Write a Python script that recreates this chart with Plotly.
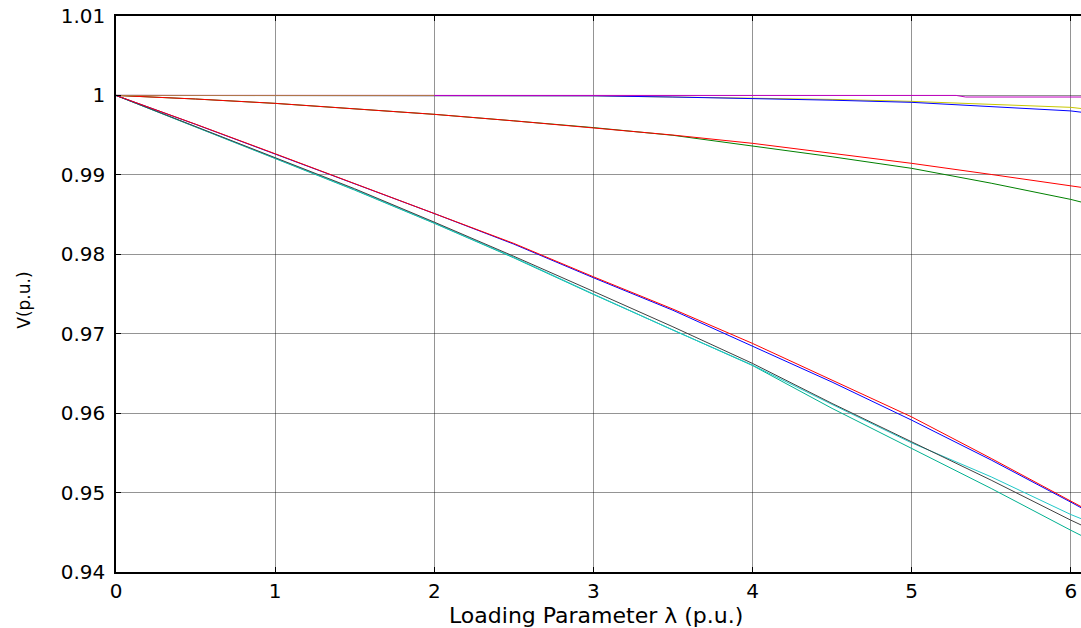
import plotly.graph_objects as go

# Loading parameter samples (p.u.)
lam = [0, 0.5, 1, 1.5, 2, 2.5, 3, 3.5, 4, 4.5, 5, 5.5, 6, 6.11]

# Steep-decline buses
v_red_steep = [1.0, 0.99638, 0.99266, 0.98893, 0.9852, 0.98137, 0.97717, 0.9731, 0.96878, 0.96417, 0.95953, 0.9543, 0.94896, 0.94775]
v_blue_steep = [1.0, 0.99636, 0.99262, 0.98888, 0.98513, 0.98128, 0.97705, 0.97295, 0.96848, 0.96391, 0.95912, 0.9541, 0.9488, 0.9476]
v_gray = [1.0, 0.9961, 0.99215, 0.98825, 0.98405, 0.97975, 0.97533, 0.97087, 0.96626, 0.96122, 0.95639, 0.95156, 0.94653, 0.9455]
v_cyan = [1.0, 0.99605, 0.99208, 0.98815, 0.98395, 0.97962, 0.975, 0.97045, 0.96605, 0.9611, 0.95626, 0.95198, 0.94724, 0.94635]
v_teal = [1.0, 0.99602, 0.99205, 0.98808, 0.9839, 0.97955, 0.97495, 0.97045, 0.966, 0.9606, 0.95555, 0.95052, 0.94526, 0.94415]

# Slow-decline buses
v_red_slow = [1.0, 0.99955, 0.999, 0.99835, 0.99762, 0.9968, 0.99595, 0.99501, 0.99397, 0.99271, 0.99145, 0.99005, 0.98859, 0.9883]
v_green_slow = [1.0, 0.99955, 0.999, 0.99835, 0.99762, 0.9968, 0.99595, 0.99498, 0.99367, 0.99228, 0.99082, 0.98895, 0.98691, 0.98635]

# Nearly flat buses
v_blue_flat = [1.0, 1.0, 1.0, 1.0, 1.0, 0.99998, 0.99995, 0.9998, 0.99963, 0.9994, 0.99913, 0.99855, 0.99805, 0.99778]
v_yellow = [1.0, 1.0, 1.0, 1.0, 1.0, 0.99998, 0.99995, 0.9998, 0.99966, 0.9995, 0.99925, 0.9989, 0.9985, 0.99825]
lam_mag = [0, 1, 2, 3, 4, 5, 5.28, 5.34, 6, 6.11]
v_magenta = [1.0, 1.0, 1.0, 1.0, 1.0, 1.0, 1.0, 0.9998, 0.9998, 0.9998]
lam_orange = [0, 1, 2]
v_orange = [1.0, 1.0, 1.0]

x_ticks = [0, 1, 2, 3, 4, 5, 6]
y_ticks = [0.94, 0.95, 0.96, 0.97, 0.98, 0.99, 1.0, 1.01]
y_tick_text = ["0.94", "0.95", "0.96", "0.97", "0.98", "0.99", "1", "1.01"]

series = [
    (lam, v_yellow, "#c8c800"),
    (lam, v_blue_flat, "#0000ff"),
    (lam_mag, v_magenta, "#c000c0"),
    (lam, v_green_slow, "#008000"),
    (lam, v_red_slow, "#ff0000"),
    (lam, v_teal, "#00b090"),
    (lam, v_cyan, "#20c8c8"),
    (lam, v_gray, "#404040"),
    (lam, v_blue_steep, "#0000ff"),
    (lam, v_red_steep, "#ff0000"),
    (lam_orange, v_orange, "#b08040"),
]

fig = go.Figure()
for xs, ys, col in series:
    fig.add_trace(go.Scatter(x=xs, y=ys, mode="lines",
                             line=dict(color=col, width=1), showlegend=False,
                             hoverinfo="skip"))

font_family = "DejaVu Sans, Arial, sans-serif"
axis_common = dict(
    showline=True, linecolor="black", linewidth=1.5, mirror="ticks",
    ticks="inside", ticklen=5, tickcolor="black", tickwidth=1,
    showgrid=True, gridcolor="rgba(0,0,0,0.42)", gridwidth=1,
    zeroline=False,
    tickfont=dict(family=font_family, size=20, color="black"),
)

# figure slightly wider than the window so the right frame edge falls outside
W, H = 1090, 628
L, R, T, B = 116, 0, 16, 56
pw, ph = W - L - R, H - T - B
px_per_unit = 159.45

fig.update_xaxes(range=[0, pw / px_per_unit], tickvals=x_ticks,
                 ticktext=[str(t) for t in x_ticks],
                 ticklabelstandoff=0, **axis_common)
fig.update_yaxes(range=[0.94, 1.01], tickvals=y_ticks, ticktext=y_tick_text,
                 ticklabelstandoff=5, **axis_common)

fig.update_layout(
    width=W, height=H,
    margin=dict(l=L, r=R, t=T, b=B),
    paper_bgcolor="white", plot_bgcolor="white",
    annotations=[
        dict(text="Loading Parameter λ (p.u.)",
             x=(597 - L) / pw, y=(H - B - 615) / ph, xref="paper", yref="paper",
             xanchor="center", yanchor="middle", showarrow=False,
             font=dict(family=font_family, size=22, color="black")),
        dict(text="V(p.u.)", textangle=-90,
             x=(23.5 - L) / pw, y=(H - B - 300) / ph, xref="paper", yref="paper",
             xanchor="center", yanchor="middle", showarrow=False,
             font=dict(family=font_family, size=17, color="black")),
    ],
)

fig.write_html("out.html", config={"displayModeBar": False},
               post_script="document.body.style.margin='0';document.body.style.overflow='hidden';")
